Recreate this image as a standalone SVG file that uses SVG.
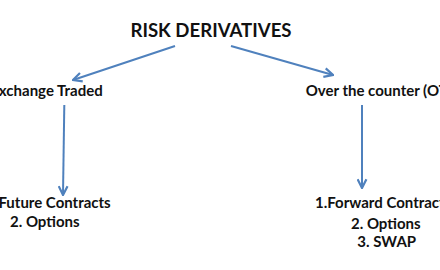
<svg xmlns="http://www.w3.org/2000/svg" width="440" height="270" viewBox="0 0 440 270">
<style>
text{font-family:Lato,"Open Sans","Liberation Sans",sans-serif;font-weight:bold;fill:#111}
.t{font-size:18.6px}
.n{font-size:15px}
.c{fill:none;stroke:#4f81bd;stroke-width:2;marker-end:url(#ah)}
</style>
<defs>
<marker id="ah" viewBox="0 0 10 10" refX="9" refY="5" markerWidth="5.5" markerHeight="5.5" orient="auto" markerUnits="strokeWidth">
<polyline points="1,1 9,5 1,9" fill="none" stroke="#4f81bd" stroke-width="2"/>
</marker>
</defs>
<rect width="440" height="270" fill="#fff"/>
<g id="root"><text class="t" x="211" y="36.7" text-anchor="middle">RISK DERIVATIVES</text></g>
<g id="exchange"><text class="n" x="102.7" y="95.7" text-anchor="end">Exchange Traded</text></g>
<g id="otc"><text class="n" x="305.7" y="95.7">Over the counter (OTC)</text></g>
<g id="exlist"><text class="n" x="110.7" y="208.3" text-anchor="end">1. Future Contracts</text><text class="n" x="44.8" y="226.7" text-anchor="middle">2. Options</text></g>
<g id="otclist"><text class="n" x="315" y="208.3">1.Forward Contracts</text><text class="n" x="385.8" y="229" text-anchor="middle">2. Options</text><text class="n" x="386.7" y="246.7" text-anchor="middle">3. SWAP</text></g>
<g id="connectors">
<line class="c" x1="175" y1="46" x2="73" y2="80"/>
<line class="c" x1="231" y1="46" x2="333" y2="75"/>
<line class="c" x1="64.3" y1="105" x2="63" y2="195"/>
<line class="c" x1="362" y1="105" x2="362" y2="188"/>
</g>
</svg>
